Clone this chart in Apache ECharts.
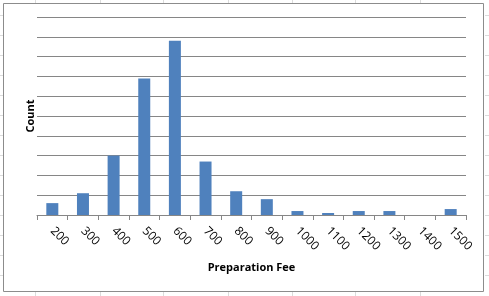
<!DOCTYPE html>
<html>
<head>
<meta charset="utf-8">
<script src="https://cdn.jsdelivr.net/npm/echarts@6/dist/echarts.min.js"></script>
<style>
html,body{margin:0;padding:0;background:#fff;}
#c{width:489px;height:296px;}
</style>
</head>
<body>
<div id="c"></div>
<script>
var categories = ['200','300','400','500','600','700','800','900','1000','1100','1200','1300','1400','1500'];
var counts = [6, 11, 30, 69, 88, 27, 12, 8, 2, 1, 2, 2, 0, 3];
var xTitle = 'Preparation Fee';
var yTitle = 'Count';

var chart = echarts.init(document.getElementById('c'), null, {renderer:'canvas'});

// faint spreadsheet cell lines behind the chart frame
var sheet = [];
[35, 100, 163, 228, 292, 355, 420].forEach(function(x){
  sheet.push({type:'line', shape:{x1:x+0.5,y1:0,x2:x+0.5,y2:3}, style:{stroke:'#dcdcdc',lineWidth:1}, z:-2});
  sheet.push({type:'line', shape:{x1:x+0.5,y1:292,x2:x+0.5,y2:296}, style:{stroke:'#dcdcdc',lineWidth:1}, z:-2});
});
[15, 35, 55, 75, 95, 115, 135, 155, 175, 195, 215, 235, 255, 275].forEach(function(y){
  sheet.push({type:'line', shape:{x1:0,y1:y+0.5,x2:3,y2:y+0.5}, style:{stroke:'#dcdcdc',lineWidth:1}, z:-2});
  sheet.push({type:'line', shape:{x1:485,y1:y+0.5,x2:489,y2:y+0.5}, style:{stroke:'#dcdcdc',lineWidth:1}, z:-2});
});
sheet.push({type:'rect', shape:{x:3.5,y:3.5,width:480,height:288}, style:{fill:'#fff',stroke:'#8c8c8c',lineWidth:1}, z:-1});

chart.setOption({
  animation:false,
  backgroundColor:'#fff',
  graphic: sheet,
  grid:{left:37, right:23, top:17, bottom:81, containLabel:false},
  xAxis:{
    type:'category',
    data:categories,
    boundaryGap:true,
    name:xTitle,
    nameLocation:'middle',
    nameGap:47,
    nameTextStyle:{fontFamily:'Open Sans', fontWeight:'bold', fontSize:11, color:'#000'},
    axisLine:{show:true, lineStyle:{color:'#868686', width:1}},
    axisTick:{show:true, alignWithLabel:false, length:5, lineStyle:{color:'#868686'}},
    axisLabel:{rotate:-45, fontFamily:'Open Sans', fontSize:12, color:'#000', margin:14, interval:0}
  },
  yAxis:{
    type:'value',
    min:0, max:100, interval:10,
    name:yTitle,
    nameLocation:'middle',
    nameGap:1,
    nameRotate:90,
    nameTextStyle:{fontFamily:'Open Sans', fontWeight:'bold', fontSize:11, color:'#000'},
    axisLine:{show:false},
    axisTick:{show:false},
    axisLabel:{show:false},
    splitLine:{show:true, lineStyle:{color:'#868686', width:1}}
  },
  series:[{
    type:'bar',
    data:counts,
    barWidth:12,
    itemStyle:{color:'#4f81bd'}
  }]
});
</script>
</body>
</html>
